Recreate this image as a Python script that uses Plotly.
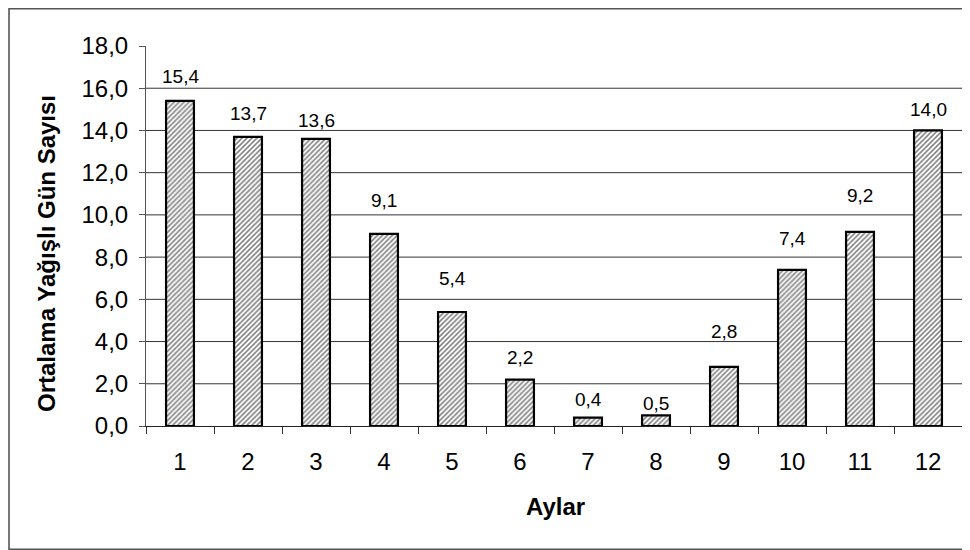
import plotly.graph_objects as go

MONTHS = ["1", "2", "3", "4", "5", "6", "7", "8", "9", "10", "11", "12"]
RAINY_DAYS = [15.4, 13.7, 13.6, 9.1, 5.4, 2.2, 0.4, 0.5, 2.8, 7.4, 9.2, 14.0]
Y_TICKS = [0, 2, 4, 6, 8, 10, 12, 14, 16, 18]
LABEL_SHIFT = [24, 23, 18, 33, 34, 22, 18, 12, 35, 31, 36, 21]  # px above bar tops (style)

FONT = "Liberation Sans, Arial, sans-serif"

fig = go.Figure()
fig.add_trace(go.Bar(
    x=MONTHS, y=RAINY_DAYS, width=0.41,
    marker=dict(color="white",
                line=dict(color="black", width=2.2),
                pattern=dict(shape="/", fgcolor="black", bgcolor="white",
                             size=3.5, solidity=0.45)),
    hoverinfo="x+y",
))

for i, (v, s) in enumerate(zip(RAINY_DAYS, LABEL_SHIFT)):
    fig.add_annotation(x=i, y=v, yshift=s, text=f"{v:.1f}".replace(".", ","),
                       showarrow=False, xanchor="center", yanchor="middle",
                       font=dict(family=FONT, size=19, color="black"))

# horizontal gridlines (excluding axis bottom and top)
for t in Y_TICKS[1:-1]:
    fig.add_shape(type="line", xref="paper", yref="y", x0=0, x1=1, y0=t, y1=t,
                  line=dict(color="#333333", width=1), layer="below")

# page offset of 8px (browser body margin)
OFF = 8
W, H = 962, 542
ml, mr, mt, mb = 138, 8, 38, 124
pw, ph = W - ml - mr, H - mt - mb
def px(x): return (x - OFF - ml) / pw
def py(y): return (H - mb - (y - OFF)) / ph
fig.add_shape(type="rect", xref="paper", yref="paper",
              x0=px(9), x1=px(968.5), y0=py(549.2), y1=py(8.8),
              line=dict(color="#555555", width=1.6), fillcolor="rgba(0,0,0,0)")

fig.add_annotation(xref="paper", yref="paper", x=px(47), y=py(254),
                   text="<b>Ortalama Yağışlı Gün Sayısı</b>", textangle=-90,
                   showarrow=False, xanchor="center", yanchor="middle",
                   font=dict(family=FONT, size=24, color="black"))
fig.add_annotation(xref="paper", yref="paper", x=px(555), y=py(506),
                   text="<b>Aylar</b>", showarrow=False,
                   xanchor="center", yanchor="middle",
                   font=dict(family=FONT, size=24, color="black"))

fig.update_layout(
    width=W, height=H,
    margin=dict(l=ml, r=mr, t=mt, b=mb),
    paper_bgcolor="white", plot_bgcolor="white",
    separators=",.",
    showlegend=False,
    bargap=0.59,
    font=dict(family=FONT, color="black"),
    xaxis=dict(type="category", showgrid=False, showline=True,
               linecolor="#222222", linewidth=1.3,
               ticks="outside", ticklen=7, tickcolor="#333333", tickwidth=1,
               tickson="boundaries", ticklabelstandoff=14,
               tickfont=dict(family=FONT, size=24, color="black"),
               range=[-0.5, 11.5]),
    yaxis=dict(range=[0, 18], tickvals=Y_TICKS, tickformat=".1f",
               showgrid=False, zeroline=False, showline=True,
               linecolor="#555555", linewidth=1,
               ticks="outside", ticklen=6, tickcolor="#555555",
               ticklabelstandoff=6,
               tickfont=dict(family=FONT, size=24, color="black")),
)

fig.write_html("out.html")
